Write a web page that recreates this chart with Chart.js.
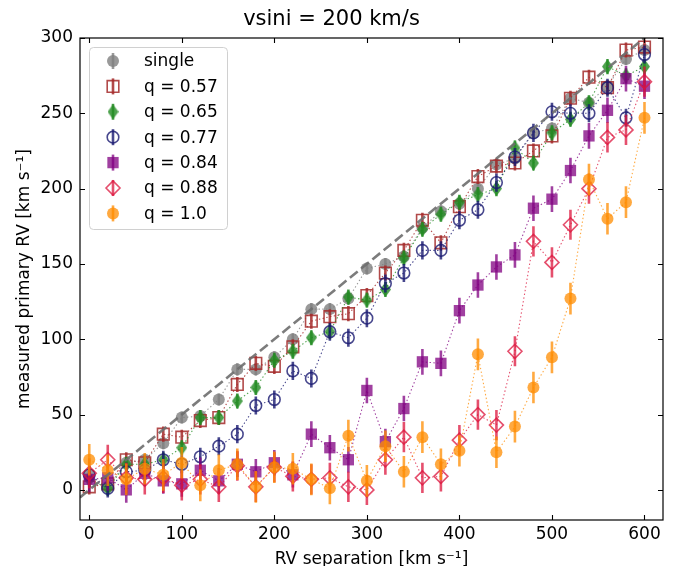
<!DOCTYPE html>
<html>
<head>
<meta charset="utf-8">
<script src="https://cdn.jsdelivr.net/npm/chart.js@4.4.0/dist/chart.umd.min.js"></script>
<style>
  html, body { margin: 0; padding: 0; background: #fff; }
  #wrap { width: 674px; height: 566px; }
</style>
</head>
<body>
<div id="wrap"><canvas id="rvChart" width="674" height="566"></canvas></div>
<script>
// x positions (RV separation, km/s)
const rvSeparation = [0, 20, 40, 60, 80, 100, 120, 140, 160, 180, 200, 220, 240, 260, 280, 300,
                      320, 340, 360, 380, 400, 420, 440, 460, 480, 500, 520, 540, 560, 580, 600];

// measured primary RV per case
const rvSingle = [10, 2, 18, 20, 31, 48, 49, 60, 80, 80, 88, 100, 120, 120, 127, 147,
                  150, 155, 174, 185, 190, 200, 216, 220, 237, 240, 260, 257, 268, 286, 292];
const rvQ057 = [2, 4, 20, 18, 37, 35, 46, 48, 70, 84, 82, 95, 112, 115, 117, 129,
                144, 159, 179, 164, 188, 208, 215, 217, 225, 235, 260, 274, 267, 292, 294];
const rvQ065 = [7, 1, 17, 17, 20, 28, 48, 48, 59, 68, 86, 92, 101, 105, 128, 126,
                133, 154, 173, 183, 191, 196, 200, 227, 217, 237, 246, 257, 281, 275, 281];
const rvQ077 = [10, 1, 12, 13, 20, 17, 22, 29, 37, 56, 60, 79, 74, 105, 101, 114,
                137, 144, 159, 159, 179, 186, 204, 221, 237, 251, 250, 250, 267, 247, 289];
const rvQ084 = [7, 8, 0, 11, 6, 4, 13, 6, 17, 12, 18, 10, 37, 28, 20, 66,
                32, 54, 85, 84, 119, 136, 148, 156, 187, 193, 212, 235, 252, 273, 268];
const rvQ088 = [11, 20, 8, 7, 8, 3, 7, 2, 16, 2, 15, 9, 7, 8, 2, 0,
                20, 35, 8, 9, 33, 50, 43, 92, 165, 151, 176, 200, 234, 239, 271];
const rvQ100 = [20, 13, 7, 14, 10, 18, 3, 13, 17, 2, 15, 14, 7, 1, 36, 6,
                29, 12, 35, 17, 26, 90, 25, 42, 68, 88, 127, 206, 180, 191, 247];

// half length of the error bars per case
const errSingle = 4, errQ057 = 5, errQ065 = 5, errQ077 = 6, errQ084 = 8.5, errQ088 = 10, errQ100 = 10.5;

// 1:1 reference (dashed)
const refX = [-10, 620];
const refY = [-5, 310];

const seriesLabels = ['single', 'q = 0.57', 'q = 0.65', 'q = 0.77', 'q = 0.84', 'q = 0.88', 'q = 1.0'];
const xTickValues = [0, 100, 200, 300, 400, 500, 600];
const yTickValues = [0, 50, 100, 150, 200, 250, 300];

const FONT = "'DejaVu Sans', sans-serif";

// thin diamond marker (matplotlib 'd')
function thinDiamond(color) {
    const c = document.createElement('canvas');
    c.width = 11; c.height = 15;
    const g = c.getContext('2d');
    g.fillStyle = color;
    g.beginPath();
    g.moveTo(5.5, 0); g.lineTo(11, 7.5); g.lineTo(5.5, 15); g.lineTo(0, 7.5);
    g.closePath();
    g.fill();
    return c;
}

function pts(ys) {
    return rvSeparation.map((x, i) => ({ x: x, y: ys[i] }));
}

function serie(label, ys, err, color, style, radius, filled, order) {
    return {
        label: label,
        data: pts(ys),
        errHalf: err,
        barColor: color,
        borderColor: color,
        backgroundColor: 'rgba(0,0,0,0)',
        borderWidth: 1.1,
        borderDash: [1.4, 2.4],
        pointStyle: style,
        pointRadius: radius,
        pointBorderColor: color,
        pointBackgroundColor: filled ? color : 'rgba(0,0,0,0)',
        pointBorderWidth: filled ? 0 : 1.6,
        order: order,
        showLine: true,
        fill: false
    };
}

const cGray = 'rgba(128,128,128,0.8)';
const cBrown = 'rgba(165,42,42,0.85)';
const cGreen = 'rgba(34,139,34,0.8)';
const cNavy = 'rgba(25,25,112,0.8)';
const cPurple = 'rgba(128,0,128,0.75)';
const cCrimson = 'rgba(220,20,60,0.75)';
const cOrange = 'rgba(255,140,0,0.75)';

const datasets = [
    serie(seriesLabels[0], rvSingle, errSingle, cGray, 'circle', 6, true, 7),
    serie(seriesLabels[1], rvQ057, errQ057, cBrown, 'rect', 8.2, false, 6),
    serie(seriesLabels[2], rvQ065, errQ065, cGreen, thinDiamond(cGreen), 7, true, 5),
    serie(seriesLabels[3], rvQ077, errQ077, cNavy, 'circle', 5.8, false, 4),
    serie(seriesLabels[4], rvQ084, errQ084, cPurple, 'rect', 8, true, 3),
    serie(seriesLabels[5], rvQ088, errQ088, cCrimson, 'rectRot', 7, false, 2),
    serie(seriesLabels[6], rvQ100, errQ100, cOrange, 'circle', 6, true, 1),
    {
        label: 'ref',
        data: refX.map((x, i) => ({ x: x, y: refY[i] })),
        borderColor: 'rgba(110,110,110,0.9)',
        borderWidth: 2.6,
        borderDash: [10, 4.5],
        pointRadius: 0,
        showLine: true,
        fill: false,
        order: 0
    }
];

// vertical error bars, drawn just before each series
const errorBarPlugin = {
    id: 'errorBars',
    beforeDatasetDraw(chart, args) {
        const ds = chart.data.datasets[args.index];
        if (!ds.errHalf) return;
        const ctx = chart.ctx, a = chart.chartArea, ys = chart.scales.y;
        ctx.save();
        ctx.beginPath();
        ctx.rect(a.left, a.top, a.right - a.left, a.bottom - a.top);
        ctx.clip();
        ctx.strokeStyle = ds.barColor;
        ctx.lineWidth = 2.6;
        ctx.beginPath();
        args.meta.data.forEach((p, i) => {
            const v = ds.data[i].y;
            ctx.moveTo(p.x, ys.getPixelForValue(v - ds.errHalf));
            ctx.lineTo(p.x, ys.getPixelForValue(v + ds.errHalf));
        });
        ctx.stroke();
        ctx.restore();
    }
};

// frame, inward ticks on all sides, legend box
const framePlugin = {
    id: 'frame',
    afterDraw(chart) {
        const ctx = chart.ctx, a = chart.chartArea;
        const xs = chart.scales.x, ys = chart.scales.y;
        ctx.save();
        ctx.strokeStyle = '#000';
        ctx.lineWidth = 1.1;
        ctx.beginPath();
        xTickValues.forEach(v => {
            const px = Math.round(xs.getPixelForValue(v)) + 0.5;
            ctx.moveTo(px, a.bottom); ctx.lineTo(px, a.bottom - 5);
            ctx.moveTo(px, a.top); ctx.lineTo(px, a.top + 5);
        });
        yTickValues.forEach(v => {
            const py = Math.round(ys.getPixelForValue(v)) + 0.5;
            ctx.moveTo(a.left, py); ctx.lineTo(a.left + 5, py);
            ctx.moveTo(a.right, py); ctx.lineTo(a.right - 5, py);
        });
        ctx.stroke();
        ctx.lineWidth = 1.2;
        ctx.strokeRect(a.left, a.top, a.right - a.left, a.bottom - a.top);

        // legend
        const lx = a.left + 9, ly = a.top + 9, lw = 138, lh = 182;
        ctx.fillStyle = 'rgba(255,255,255,0.8)';
        ctx.strokeStyle = '#d0d0d0';
        ctx.lineWidth = 1;
        ctx.beginPath();
        ctx.roundRect(lx + 0.5, ly + 0.5, lw, lh, 4);
        ctx.fill();
        ctx.stroke();
        ctx.font = '17px ' + FONT;
        ctx.textBaseline = 'middle';
        chart.data.datasets.forEach((ds, i) => {
            if (!ds.errHalf) return;
            const my = ly + 14 + i * 25.4, mx = lx + 24;
            ctx.strokeStyle = ds.barColor;
            ctx.lineWidth = 2.6;
            ctx.beginPath();
            ctx.moveTo(mx, my - 8); ctx.lineTo(mx, my + 8);
            ctx.stroke();
            ctx.fillStyle = ds.pointBackgroundColor;
            ctx.strokeStyle = ds.pointBorderColor;
            ctx.lineWidth = ds.pointBorderWidth;
            Chart.helpers.drawPoint(ctx, {
                pointStyle: ds.pointStyle, radius: ds.pointRadius,
                borderWidth: ds.pointBorderWidth, rotation: 0
            }, mx, my);
            ctx.fillStyle = '#000';
            ctx.fillText(ds.label, lx + 55, my + 1);
        });
        ctx.restore();
    }
};

new Chart(document.getElementById('rvChart'), {
    type: 'scatter',
    data: { datasets: datasets },
    options: {
        responsive: false,
        animation: false,
        events: [],
        layout: { padding: { left: 0, right: 11, top: 0, bottom: 0 } },
        plugins: {
            legend: { display: false },
            tooltip: { enabled: false },
            title: {
                display: true,
                text: 'vsini = 200 km/s',
                color: '#000',
                font: { family: FONT, size: 21, weight: 'normal' },
                padding: { top: 7, bottom: 5.8 }
            }
        },
        scales: {
            x: {
                type: 'linear',
                min: -10, max: 620,
                grid: { display: false, drawTicks: false },
                border: { display: false },
                afterBuildTicks: s => { s.ticks = xTickValues.map(v => ({ value: v })); },
                afterFit: s => { s.height = 46; },
                ticks: { color: '#000', font: { family: FONT, size: 17 }, padding: 4, maxRotation: 0 },
                title: {
                    display: true,
                    text: 'RV separation [km s\u207B\u00B9]',
                    color: '#000',
                    font: { family: FONT, size: 17 },
                    padding: { top: 0, bottom: -4 }
                }
            },
            y: {
                type: 'linear',
                min: -20, max: 300,
                grid: { display: false, drawTicks: false },
                border: { display: false },
                afterBuildTicks: s => { s.ticks = yTickValues.map(v => ({ value: v })); },
                afterFit: s => { s.width = 80; },
                ticks: { color: '#000', font: { family: FONT, size: 17 }, padding: 7 },
                title: {
                    display: true,
                    text: 'measured primary RV [km s\u207B\u00B9]',
                    color: '#000',
                    font: { family: FONT, size: 17 },
                    padding: { top: 14, bottom: 0 }
                }
            }
        }
    },
    plugins: [errorBarPlugin, framePlugin]
});
</script>
</body>
</html>
